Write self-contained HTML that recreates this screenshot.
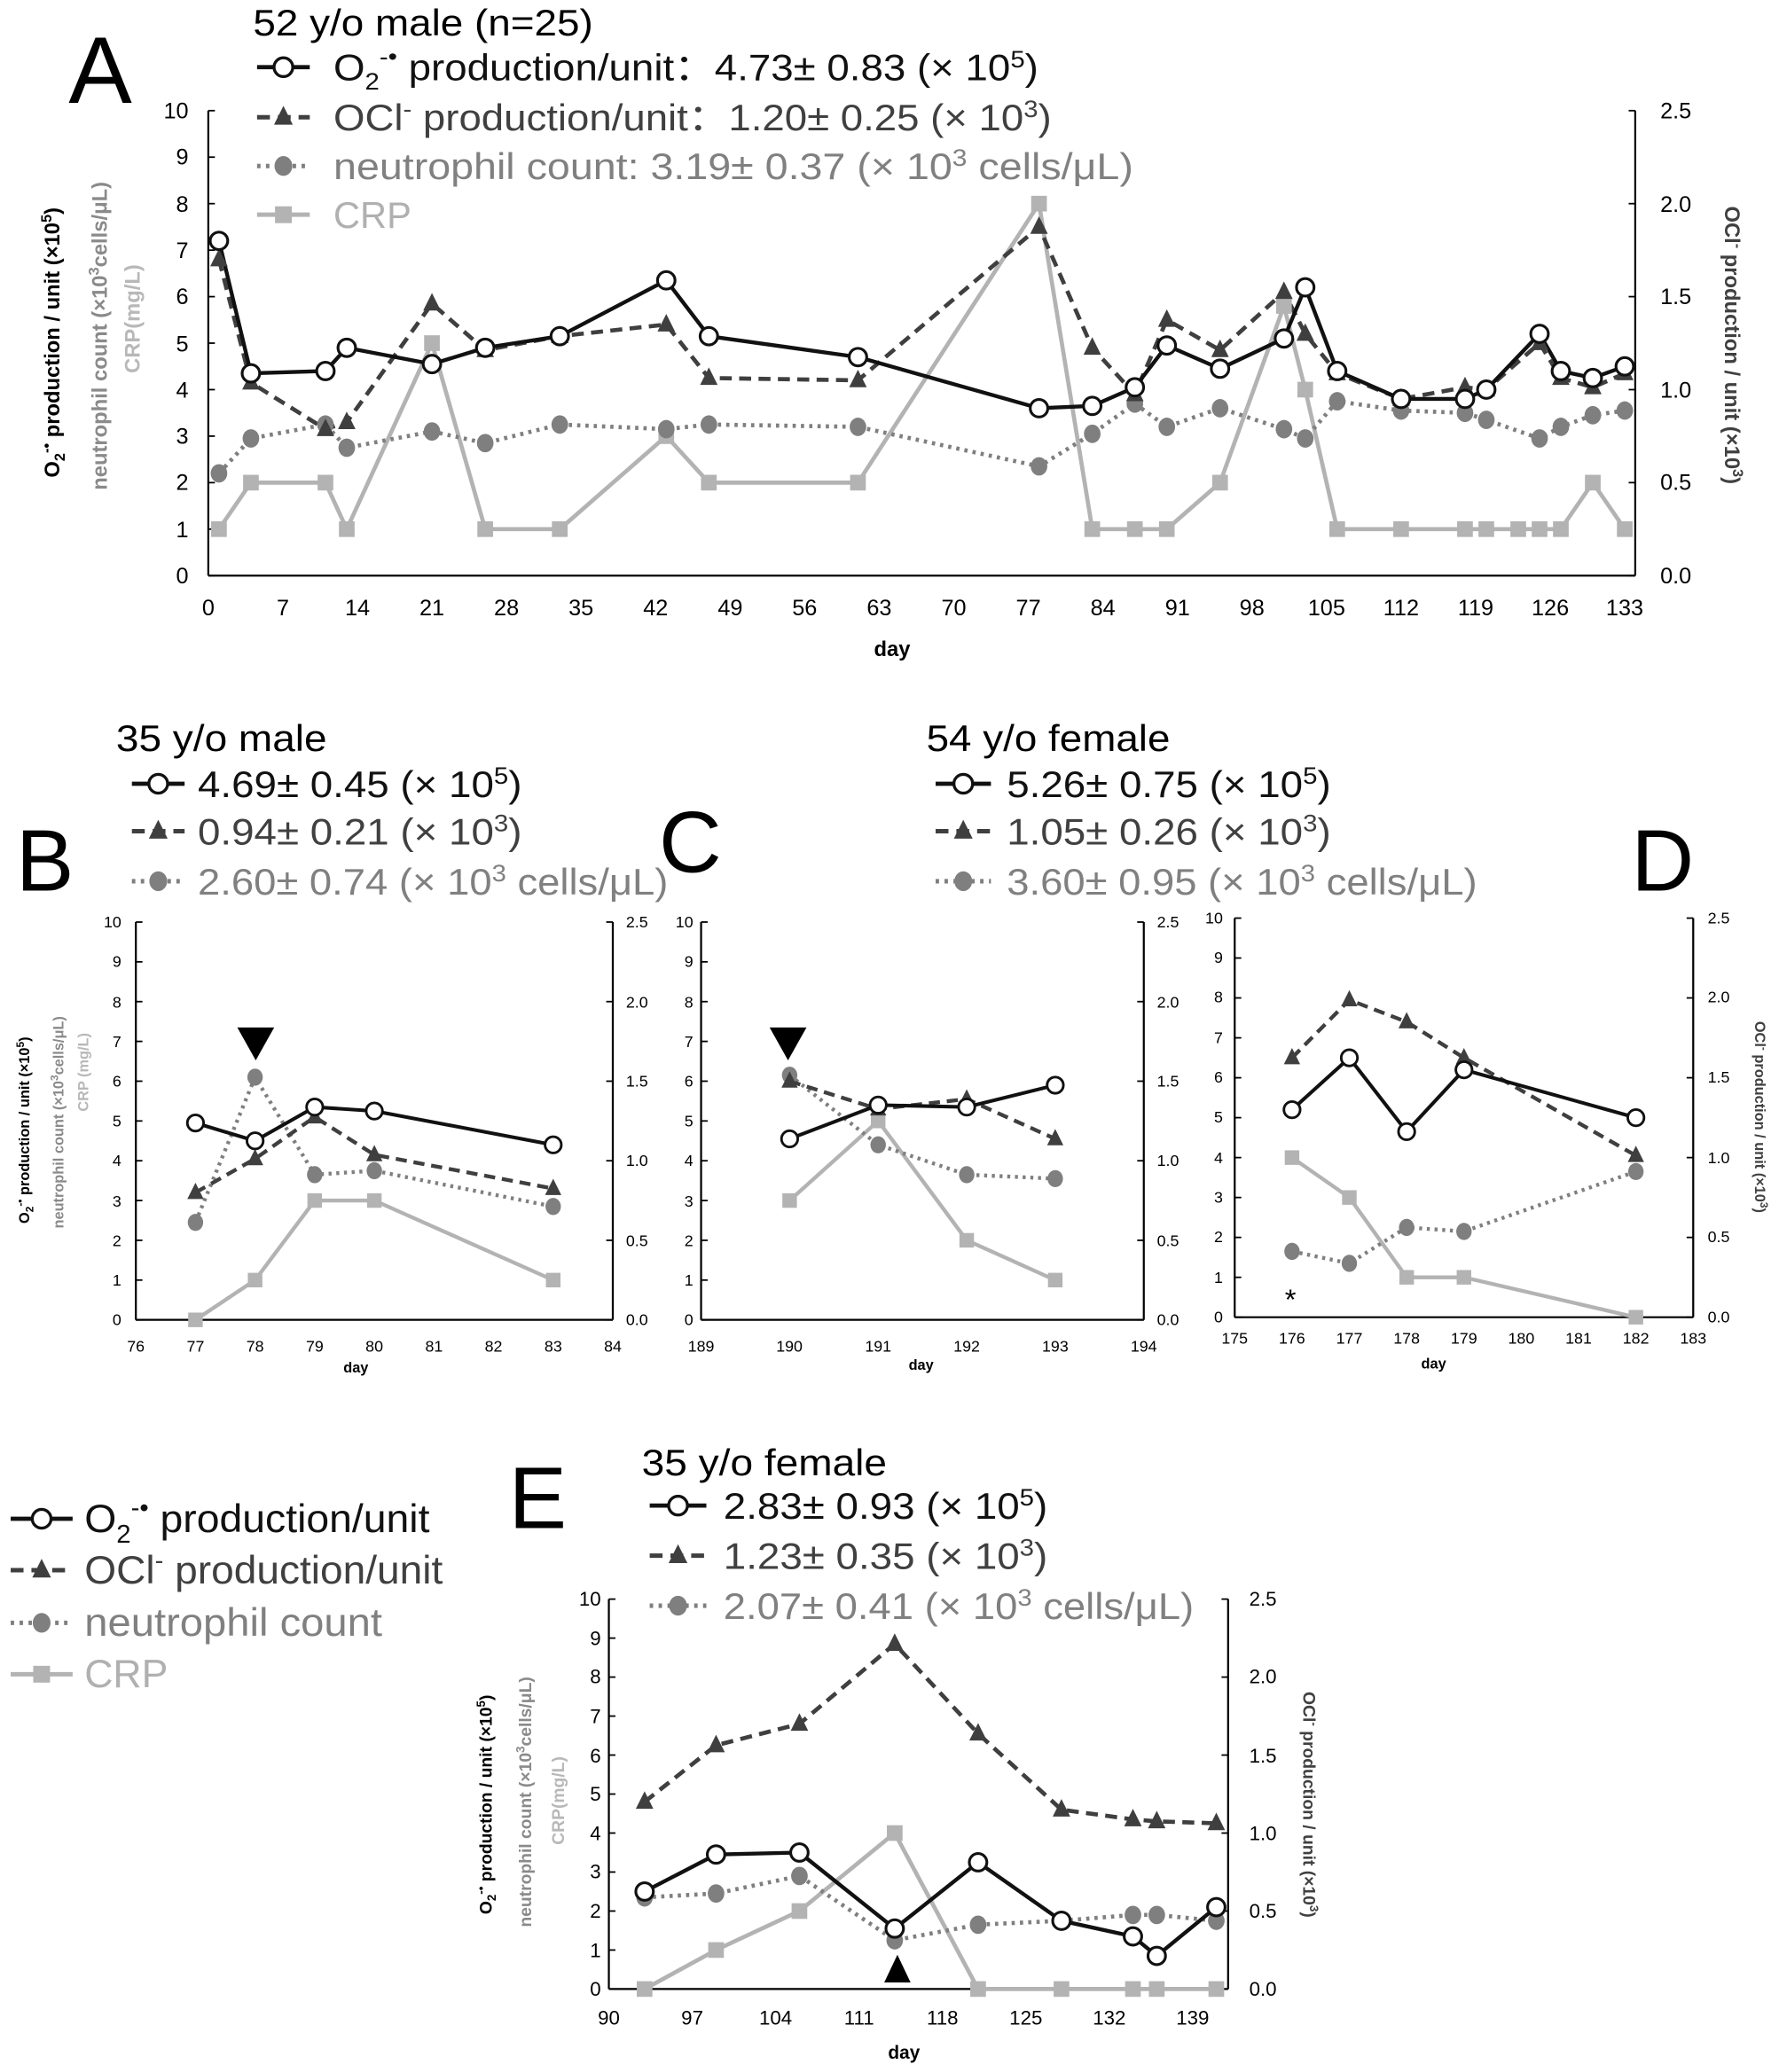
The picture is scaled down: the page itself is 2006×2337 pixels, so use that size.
<!DOCTYPE html>
<html><head><meta charset="utf-8"><style>
html,body{margin:0;padding:0;background:#fff}
svg{display:block}
text{font-family:"Liberation Sans",Arial,sans-serif}
</style></head><body>
<svg id="s" xmlns="http://www.w3.org/2000/svg" width="2006" height="2337" viewBox="0 0 1350 1573">
<rect width="1350" height="1573" fill="#fff"/>
<g id="plots"></g>

<!-- Panel A text -->
<text x="52" y="78" font-size="72">A</text>
<text x="192" y="27" font-size="28" textLength="258" lengthAdjust="spacingAndGlyphs">52 y/o male (n=25)</text>
<text x="253" y="61" font-size="28" fill="#111" textLength="535" lengthAdjust="spacingAndGlyphs">O<tspan font-size="18" dy="7">2</tspan><tspan font-size="18" dy="-19">-•</tspan><tspan dy="12"> production/unit：4.73± 0.83 (× 10</tspan><tspan font-size="18" dy="-10">5</tspan><tspan dy="10">)</tspan></text>
<text x="253" y="99" font-size="28" fill="#404040" textLength="545" lengthAdjust="spacingAndGlyphs">OCl<tspan font-size="18" dy="-10">-</tspan><tspan dy="10"> production/unit：1.20± 0.25 (× 10</tspan><tspan font-size="18" dy="-10">3</tspan><tspan dy="10">)</tspan></text>
<text x="253" y="136" font-size="28" fill="#808080" textLength="607" lengthAdjust="spacingAndGlyphs">neutrophil count:   3.19± 0.37 (× 10<tspan font-size="18" dy="-10">3</tspan><tspan dy="10"> cells/μL)</tspan></text>
<text x="253" y="173" font-size="28" fill="#b0b0b0">CRP</text>

<!-- A axes labels -->
<g font-size="17" text-anchor="end">
<text x="143" y="443">0</text><text x="143" y="408">1</text><text x="143" y="372">2</text><text x="143" y="337">3</text><text x="143" y="302">4</text><text x="143" y="267">5</text><text x="143" y="231">6</text><text x="143" y="196">7</text><text x="143" y="161">8</text><text x="143" y="125">9</text><text x="143" y="90">10</text>
</g>
<g font-size="17">
<text x="1260" y="443">0.0</text><text x="1260" y="372">0.5</text><text x="1260" y="302">1.0</text><text x="1260" y="231">1.5</text><text x="1260" y="161">2.0</text><text x="1260" y="90">2.5</text>
</g>
<g font-size="17" text-anchor="middle">
<text x="158" y="467">0</text><text x="214.6" y="467">7</text><text x="271.2" y="467">14</text><text x="327.7" y="467">21</text><text x="384.3" y="467">28</text><text x="440.9" y="467">35</text><text x="497.5" y="467">42</text><text x="554.1" y="467">49</text><text x="610.6" y="467">56</text><text x="667.2" y="467">63</text><text x="723.8" y="467">70</text><text x="780.4" y="467">77</text><text x="837" y="467">84</text><text x="893.6" y="467">91</text><text x="950.1" y="467">98</text><text x="1006.7" y="467">105</text><text x="1063.3" y="467">112</text><text x="1119.9" y="467">119</text><text x="1176.5" y="467">126</text><text x="1233" y="467">133</text>
<text x="677" y="498" font-weight="bold" font-size="16">day</text>
</g>
<text transform="translate(45,260) rotate(-90)" font-size="16" font-weight="bold" text-anchor="middle">O<tspan font-size="11" dy="4">2</tspan><tspan font-size="11" dy="-10">-•</tspan><tspan dy="6"> production / unit (×10</tspan><tspan font-size="11" dy="-6">5</tspan><tspan dy="6">)</tspan></text>
<text transform="translate(81,255) rotate(-90)" font-size="16" font-weight="bold" fill="#8a8a8a" text-anchor="middle">neutrophil count (×10<tspan font-size="11" dy="-6">3</tspan><tspan dy="6">cells/μL)</tspan></text>
<text transform="translate(106,242) rotate(-90)" font-size="16" font-weight="bold" fill="#b8b8b8" text-anchor="middle">CRP(mg/L)</text>
<text transform="translate(1309,262) rotate(90)" font-size="16" font-weight="bold" fill="#404040" text-anchor="middle">OCl<tspan font-size="11" dy="-6">-</tspan><tspan dy="6"> production / unit (×10</tspan><tspan font-size="11" dy="-6">3</tspan><tspan dy="6">)</tspan></text>

<!-- Panel B/C/D text -->
<text x="12" y="676" font-size="66">B</text>
<text x="500" y="662" font-size="66">C</text>
<text x="1238" y="676" font-size="66">D</text>
<text x="88" y="570" font-size="28" textLength="160" lengthAdjust="spacingAndGlyphs">35 y/o male</text>
<text x="150" y="605" font-size="28" fill="#111" textLength="246" lengthAdjust="spacingAndGlyphs">4.69± 0.45 (× 10<tspan font-size="18" dy="-10">5</tspan><tspan dy="10">)</tspan></text>
<text x="150" y="641" font-size="28" fill="#404040" textLength="246" lengthAdjust="spacingAndGlyphs">0.94± 0.21 (× 10<tspan font-size="18" dy="-10">3</tspan><tspan dy="10">)</tspan></text>
<text x="150" y="679" font-size="28" fill="#808080" textLength="357" lengthAdjust="spacingAndGlyphs">2.60± 0.74 (× 10<tspan font-size="18" dy="-10">3</tspan><tspan dy="10"> cells/μL)</tspan></text>
<text x="703" y="570" font-size="28" textLength="185" lengthAdjust="spacingAndGlyphs">54 y/o female</text>
<text x="764" y="605" font-size="28" fill="#111" textLength="246" lengthAdjust="spacingAndGlyphs">5.26± 0.75 (× 10<tspan font-size="18" dy="-10">5</tspan><tspan dy="10">)</tspan></text>
<text x="764" y="641" font-size="28" fill="#404040" textLength="246" lengthAdjust="spacingAndGlyphs">1.05± 0.26 (× 10<tspan font-size="18" dy="-10">3</tspan><tspan dy="10">)</tspan></text>
<text x="764" y="679" font-size="28" fill="#808080" textLength="357" lengthAdjust="spacingAndGlyphs">3.60± 0.95 (× 10<tspan font-size="18" dy="-10">3</tspan><tspan dy="10"> cells/μL)</tspan></text>

<!-- B ticks -->
<g font-size="12" text-anchor="end">
<text x="92" y="1006">0</text><text x="92" y="976">1</text><text x="92" y="946">2</text><text x="92" y="916">3</text><text x="92" y="885">4</text><text x="92" y="855">5</text><text x="92" y="825">6</text><text x="92" y="795">7</text><text x="92" y="765">8</text><text x="92" y="734">9</text><text x="92" y="704">10</text>
<text x="526" y="1006">0</text><text x="526" y="976">1</text><text x="526" y="946">2</text><text x="526" y="916">3</text><text x="526" y="885">4</text><text x="526" y="855">5</text><text x="526" y="825">6</text><text x="526" y="795">7</text><text x="526" y="765">8</text><text x="526" y="734">9</text><text x="526" y="704">10</text>
<text x="928" y="1004">0</text><text x="928" y="974">1</text><text x="928" y="943">2</text><text x="928" y="913">3</text><text x="928" y="883">4</text><text x="928" y="852">5</text><text x="928" y="822">6</text><text x="928" y="792">7</text><text x="928" y="761">8</text><text x="928" y="731">9</text><text x="928" y="701">10</text>
</g>
<g font-size="12">
<text x="475" y="1006">0.0</text><text x="475" y="946">0.5</text><text x="475" y="885">1.0</text><text x="475" y="825">1.5</text><text x="475" y="765">2.0</text><text x="475" y="704">2.5</text>
<text x="878" y="1006">0.0</text><text x="878" y="946">0.5</text><text x="878" y="885">1.0</text><text x="878" y="825">1.5</text><text x="878" y="765">2.0</text><text x="878" y="704">2.5</text>
<text x="1296" y="1004">0.0</text><text x="1296" y="943">0.5</text><text x="1296" y="883">1.0</text><text x="1296" y="822">1.5</text><text x="1296" y="761">2.0</text><text x="1296" y="701">2.5</text>
</g>
<g font-size="12" text-anchor="middle">
<text x="103" y="1026">76</text><text x="148.3" y="1026">77</text><text x="193.5" y="1026">78</text><text x="238.8" y="1026">79</text><text x="284" y="1026">80</text><text x="329.3" y="1026">81</text><text x="374.5" y="1026">82</text><text x="419.8" y="1026">83</text><text x="465" y="1026">84</text>
<text x="270" y="1042" font-weight="bold" font-size="11">day</text>
<text x="532" y="1026">189</text><text x="599" y="1026">190</text><text x="666.4" y="1026">191</text><text x="733.6" y="1026">192</text><text x="800.8" y="1026">193</text><text x="868" y="1026">194</text>
<text x="699" y="1040" font-weight="bold" font-size="11">day</text>
<text x="937" y="1020">175</text><text x="980.5" y="1020">176</text><text x="1024" y="1020">177</text><text x="1067.5" y="1020">178</text><text x="1111" y="1020">179</text><text x="1154.5" y="1020">180</text><text x="1198" y="1020">181</text><text x="1241.5" y="1020">182</text><text x="1285" y="1020">183</text>
<text x="1088" y="1039" font-weight="bold" font-size="11">day</text>
</g>
<text transform="translate(22,858) rotate(-90)" font-size="11" font-weight="bold" text-anchor="middle">O<tspan font-size="8" dy="3">2</tspan><tspan font-size="8" dy="-7">-•</tspan><tspan dy="4"> production / unit (×10</tspan><tspan font-size="8" dy="-4">5</tspan><tspan dy="4">)</tspan></text>
<text transform="translate(48,852) rotate(-90)" font-size="11" font-weight="bold" fill="#8a8a8a" text-anchor="middle">neutrophil count (×10<tspan font-size="8" dy="-4">3</tspan><tspan dy="4">cells/μL)</tspan></text>
<text transform="translate(67,814) rotate(-90)" font-size="11" font-weight="bold" fill="#b8b8b8" text-anchor="middle">CRP (mg/L)</text>
<text transform="translate(1332,848) rotate(90)" font-size="11" font-weight="bold" fill="#404040" text-anchor="middle">OCl<tspan font-size="8" dy="-4">-</tspan><tspan dy="4"> production / unit (×10</tspan><tspan font-size="8" dy="-4">3</tspan><tspan dy="4">)</tspan></text>
<text x="975" y="994" font-size="22">*</text>

<!-- Panel E text -->
<text x="386" y="1160" font-size="66">E</text>
<text x="487" y="1120" font-size="28" textLength="186" lengthAdjust="spacingAndGlyphs">35 y/o female</text>
<text x="549" y="1153" font-size="28" fill="#111" textLength="246" lengthAdjust="spacingAndGlyphs">2.83± 0.93 (× 10<tspan font-size="18" dy="-10">5</tspan><tspan dy="10">)</tspan></text>
<text x="549" y="1191" font-size="28" fill="#404040" textLength="246" lengthAdjust="spacingAndGlyphs">1.23± 0.35 (× 10<tspan font-size="18" dy="-10">3</tspan><tspan dy="10">)</tspan></text>
<text x="549" y="1229" font-size="28" fill="#808080" textLength="357" lengthAdjust="spacingAndGlyphs">2.07± 0.41 (× 10<tspan font-size="18" dy="-10">3</tspan><tspan dy="10"> cells/μL)</tspan></text>
<g font-size="15" text-anchor="end">
<text x="456" y="1515">0</text><text x="456" y="1486">1</text><text x="456" y="1456">2</text><text x="456" y="1426">3</text><text x="456" y="1397">4</text><text x="456" y="1367">5</text><text x="456" y="1338">6</text><text x="456" y="1308">7</text><text x="456" y="1278">8</text><text x="456" y="1249">9</text><text x="456" y="1219">10</text>
</g>
<g font-size="15">
<text x="948" y="1515">0.0</text><text x="948" y="1456">0.5</text><text x="948" y="1397">1.0</text><text x="948" y="1338">1.5</text><text x="948" y="1278">2.0</text><text x="948" y="1219">2.5</text>
</g>
<g font-size="15" text-anchor="middle">
<text x="462" y="1537">90</text><text x="525.3" y="1537">97</text><text x="588.6" y="1537">104</text><text x="651.9" y="1537">111</text><text x="715.2" y="1537">118</text><text x="778.5" y="1537">125</text><text x="841.8" y="1537">132</text><text x="905.1" y="1537">139</text>
<text x="686" y="1563" font-weight="bold" font-size="14">day</text>
</g>
<text transform="translate(373,1370) rotate(-90)" font-size="13" font-weight="bold" text-anchor="middle">O<tspan font-size="9" dy="3">2</tspan><tspan font-size="9" dy="-8">-•</tspan><tspan dy="5"> production / unit (×10</tspan><tspan font-size="9" dy="-5">5</tspan><tspan dy="5">)</tspan></text>
<text transform="translate(403,1368) rotate(-90)" font-size="13" font-weight="bold" fill="#8a8a8a" text-anchor="middle">neutrophil count (×10<tspan font-size="9" dy="-5">3</tspan><tspan dy="5">cells/μL)</tspan></text>
<text transform="translate(428,1367) rotate(-90)" font-size="13" font-weight="bold" fill="#b8b8b8" text-anchor="middle">CRP(mg/L)</text>
<text transform="translate(989,1370) rotate(90)" font-size="13" font-weight="bold" fill="#404040" text-anchor="middle">OCl<tspan font-size="9" dy="-5">-</tspan><tspan dy="5"> production / unit (×10</tspan><tspan font-size="9" dy="-5">3</tspan><tspan dy="5">)</tspan></text>

<!-- big left legend -->
<text x="64" y="1163" font-size="30" fill="#111" textLength="262" lengthAdjust="spacingAndGlyphs">O<tspan font-size="19" dy="8">2</tspan><tspan font-size="19" dy="-20">-•</tspan><tspan dy="12"> production/unit</tspan></text>
<text x="64" y="1202" font-size="30" fill="#404040" textLength="272" lengthAdjust="spacingAndGlyphs">OCl<tspan font-size="19" dy="-11">-</tspan><tspan dy="11"> production/unit</tspan></text>
<text x="64" y="1242" font-size="30" fill="#808080" textLength="226" lengthAdjust="spacingAndGlyphs">neutrophil  count</text>
<text x="64" y="1281" font-size="30" fill="#b0b0b0">CRP</text>
</svg>
<script>
(function(){
var NS="http://www.w3.org/2000/svg",g=document.getElementById("plots");
function el(t,a){var e=document.createElementNS(NS,t);for(var k in a)e.setAttribute(k,a[k]);g.appendChild(e);return e;}
var C={o2:"#111",ocl:"#3f3f3f",neu:"#7f7f7f",crp:"#b3b3b3"};
function mk(type,x,y,s){
 if(type=="o2") el("circle",{cx:x,cy:y,r:s*0.95,fill:"#fff",stroke:C.o2,"stroke-width":s*0.3});
 else if(type=="ocl") el("polygon",{points:[x,y-s*1.15,x+s*0.95,y+s*0.75,x-s*0.95,y+s*0.75].join(" "),fill:C.ocl});
 else if(type=="neu") el("ellipse",{cx:x,cy:y,rx:s*0.9,ry:s*1.0,fill:C.neu});
 else el("rect",{x:x-s*0.85,y:y-s*0.85,width:s*1.7,height:s*1.7,fill:C.crp});
}
function line(type,pts,s){
 var st={o2:{c:C.o2,w:s*0.42,d:""},ocl:{c:C.ocl,w:s*0.45,d:(s*1.3)+" "+(s*0.8)},neu:{c:C.neu,w:s*0.45,d:(s*0.35)+" "+(s*0.55)},crp:{c:C.crp,w:s*0.45,d:""}}[type];
 el("polyline",{points:pts.map(function(p){return p.join(",")}).join(" "),fill:"none",stroke:st.c,"stroke-width":st.w,"stroke-dasharray":st.d,"stroke-linejoin":"round"});
}
function legendItem(type,x1,x2,y,s){line(type,[[x1,y],[x2,y]],s);mk(type,(x1+x2)/2,y,s);}
function panel(P){
 el("line",{x1:P.x0,y1:P.ytop,x2:P.x0,y2:P.y0,stroke:"#000","stroke-width":1.5});
 el("line",{x1:P.x0,y1:P.y0,x2:P.xr,y2:P.y0,stroke:"#000","stroke-width":1.5});
 el("line",{x1:P.xr,y1:P.ytop,x2:P.xr,y2:P.y0,stroke:"#000","stroke-width":1.5});
 for(var i=0;i<=10;i++){var yy=P.y0-(P.y0-P.ytop)*i/10;el("line",{x1:P.x0,y1:yy,x2:P.x0+5,y2:yy,stroke:"#000","stroke-width":1.2});}
 for(i=0;i<=5;i++){yy=P.y0-(P.y0-P.ytop)*i/5;el("line",{x1:P.xr-5,y1:yy,x2:P.xr,y2:yy,stroke:"#000","stroke-width":1.2});}
 function X(d){return P.x0+(d-P.d0)*P.dx;} function Y(v){return P.y0-(P.y0-P.ytop)*v/10;}
 ["crp","neu","ocl","o2"].forEach(function(t){var pts=P.data[t].map(function(p){return [X(p[0]),Y(p[1])];});line(t,pts,P.s);});
 ["crp","neu","ocl","o2"].forEach(function(t){P.data[t].forEach(function(p){mk(t,X(p[0]),Y(p[1]),P.s);});});
}
panel({x0:158,xr:1241,y0:437,ytop:84,d0:0,dx:8.083,s:7,data:{
o2:[[1,7.2],[4,4.35],[11,4.4],[13,4.9],[21,4.55],[26,4.9],[33,5.15],[43,6.35],[47,5.15],[61,4.7],[78,3.6],[83,3.65],[87,4.05],[90,4.95],[95,4.45],[101,5.1],[103,6.2],[106,4.4],[112,3.8],[118,3.8],[120,4.0],[125,5.2],[127,4.4],[130,4.25],[133,4.5]],
ocl:[[1,6.8],[4,4.15],[11,3.15],[13,3.3],[21,5.85],[26,4.85],[33,5.15],[43,5.4],[47,4.25],[61,4.2],[78,7.5],[83,4.9],[87,3.9],[90,5.5],[95,4.85],[101,6.1],[103,5.2],[106,4.35],[112,3.8],[118,4.05],[120,4.0],[125,5.0],[127,4.25],[130,4.05],[133,4.35]],
neu:[[1,2.2],[4,2.95],[11,3.25],[13,2.75],[21,3.1],[26,2.85],[33,3.25],[43,3.15],[47,3.25],[61,3.2],[78,2.35],[83,3.05],[87,3.7],[90,3.2],[95,3.6],[101,3.15],[103,2.95],[106,3.75],[112,3.55],[118,3.5],[120,3.35],[125,2.95],[127,3.2],[130,3.45],[133,3.55]],
crp:[[1,1],[4,2],[11,2],[13,1],[21,5],[26,1],[33,1],[43,3],[47,2],[61,2],[78,8],[83,1],[87,1],[90,1],[95,2],[101,5.8],[103,4],[106,1],[112,1],[118,1],[120,1],[123,1],[125,1],[127,1],[130,2],[133,1]]}});
panel({x0:103,xr:465,y0:1002,ytop:700,d0:76,dx:45.25,s:6.5,data:{
o2:[[77,4.95],[78,4.5],[79,5.35],[80,5.25],[83,4.4]],
ocl:[[77,3.2],[78,4.05],[79,5.1],[80,4.15],[83,3.3]],
neu:[[77,2.45],[78,6.1],[79,3.65],[80,3.75],[83,2.85]],
crp:[[77,0],[78,1],[79,3],[80,3],[83,1]]}});
panel({x0:532,xr:868,y0:1002,ytop:700,d0:189,dx:67.2,s:6.5,data:{
o2:[[190,4.55],[191,5.4],[192,5.35],[193,5.9]],
ocl:[[190,6.0],[191,5.3],[192,5.55],[193,4.55]],
neu:[[190,6.15],[191,4.4],[192,3.65],[193,3.55]],
crp:[[190,3],[191,5],[192,2],[193,1]]}});
panel({x0:937,xr:1285,y0:1000,ytop:697,d0:175,dx:43.5,s:6.5,data:{
o2:[[176,5.2],[177,6.5],[178,4.65],[179,6.2],[182,5.0]],
ocl:[[176,6.5],[177,7.95],[178,7.4],[179,6.5],[182,4.05]],
neu:[[176,1.65],[177,1.35],[178,2.25],[179,2.15],[182,3.65]],
crp:[[176,4],[177,3],[178,1],[179,1],[182,0]]}});
panel({x0:462,xr:932,y0:1510,ytop:1214,d0:90,dx:9.04,s:7,data:{
o2:[[93,2.5],[99,3.45],[106,3.5],[114,1.55],[121,3.25],[128,1.75],[134,1.35],[136,0.85],[141,2.1]],
ocl:[[93,4.8],[99,6.25],[106,6.8],[114,8.85],[121,6.55],[128,4.6],[134,4.35],[136,4.3],[141,4.25]],
neu:[[93,2.35],[99,2.45],[106,2.9],[114,1.25],[121,1.65],[128,1.75],[134,1.9],[136,1.9],[141,1.75]],
crp:[[93,0],[99,1],[106,2],[114,4],[121,0],[128,0],[134,0],[136,0],[141,0]]}});
el("polygon",{points:"180,780 208,780 194,805",fill:"#000"});
el("polygon",{points:"584,780 612,780 598,805",fill:"#000"});
el("polygon",{points:"671,1505 691,1505 681,1484",fill:"#000"});
var L=[["o2",195,235,51],["ocl",195,235,89],["neu",195,235,126],["crp",195,235,163],
["o2",100,140,595],["ocl",100,140,631],["neu",100,140,669],
["o2",710,752,595],["ocl",710,752,631],["neu",710,752,669],
["o2",493,536,1143],["ocl",493,536,1181],["neu",493,536,1219],
["o2",8,55,1153],["ocl",8,55,1192],["neu",8,55,1232],["crp",8,55,1271]];
L.forEach(function(l){legendItem(l[0],l[1],l[2],l[3],7.5);});
})();
</script>
</body></html>
